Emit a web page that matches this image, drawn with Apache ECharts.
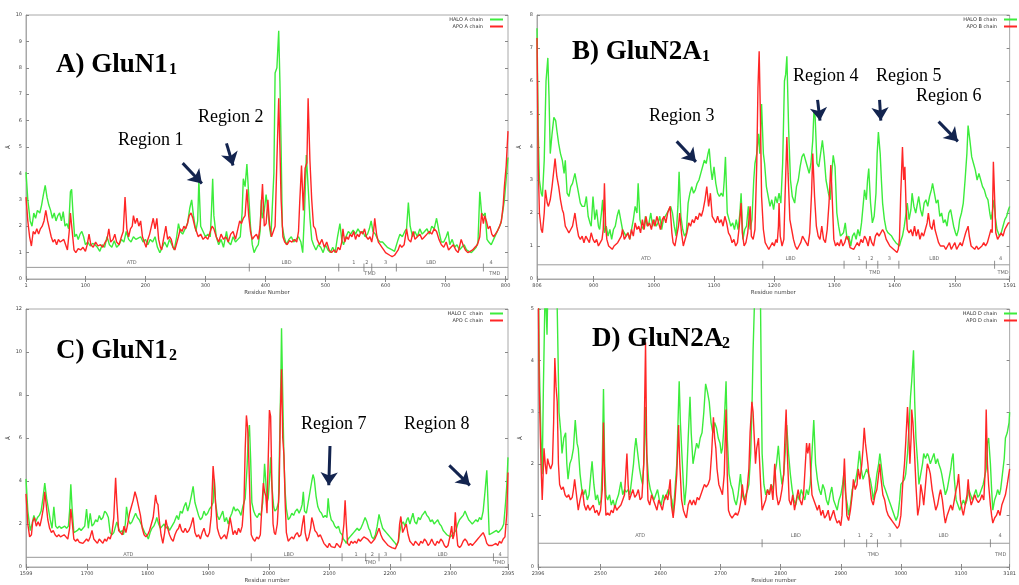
<!DOCTYPE html>
<html><head><meta charset="utf-8">
<script src="https://cdn.jsdelivr.net/npm/echarts@6/dist/echarts.min.js"></script>
<style>html,body{margin:0;padding:0;background:#fff}#c{width:1019px;height:585px}</style>
</head><body><div id="c"></div>
<script>
// ---------------- DATA (residue, RMSF in Å) ----------------
const haloA = [[1,4.05],[4,3.0],[8,2.2],[11,2.0],[14,2.5],[17,2.3],[20,2.6],[24,2.5],[27,2.8],[30,3.2],[33,3.55],[36,3.1],[39,2.8],[42,2.6],[45,2.3],[48,2.5],[51,2.2],[54,2.4],[57,2.5],[60,2.2],[63,2.55],[66,2.0],[69,2.1],[72,1.9],[75,3.3],[77,3.4],[79,2.6],[82,1.6],[85,1.7],[88,1.5],[91,1.7],[94,1.8],[97,1.6],[100,1.3],[104,1.4],[108,1.25],[112,1.35],[116,1.3],[120,1.2],[124,1.05],[128,1.3],[132,1.2],[136,1.6],[140,1.3],[144,1.2],[148,1.45],[152,1.2],[156,1.3],[160,1.5],[164,1.4],[168,1.8],[172,1.5],[176,1.4],[180,1.6],[184,1.5],[188,1.55],[192,1.6],[196,1.4],[200,1.5],[204,1.3],[208,1.5],[212,1.4],[216,1.6],[220,1.2],[224,1.0],[228,1.2],[232,1.4],[236,1.2],[240,1.5],[244,1.3],[248,1.1],[252,1.6],[255,2.1],[258,1.8],[262,1.7],[266,1.9],[270,2.1],[274,2.7],[277,3.0],[280,2.4],[284,1.8],[287,2.2],[289,3.75],[292,2.0],[296,1.8],[300,1.6],[304,1.7],[308,1.6],[310,2.6],[312,3.8],[314,2.4],[318,1.6],[322,1.3],[326,1.5],[330,1.2],[335,1.8],[338,1.4],[342,1.3],[346,1.6],[350,1.4],[354,1.5],[358,1.6],[361,2.5],[363,3.8],[366,3.5],[369,4.35],[372,3.2],[375,2.0],[378,1.3],[381,1.0],[385,1.2],[388,1.3],[391,1.8],[393,3.0],[395,2.3],[398,2.6],[401,3.2],[404,2.6],[406,2.1],[409,1.6],[412,1.6],[414,4.0],[416,7.8],[419,8.0],[422,9.4],[424,7.5],[426,5.0],[428,2.0],[431,1.6],[435,1.3],[439,1.5],[443,1.6],[447,1.4],[451,1.5],[455,1.6],[459,1.4],[462,1.0],[465,2.5],[468,4.7],[471,3.5],[474,2.3],[477,1.5],[480,1.3],[484,1.1],[488,1.3],[492,1.2],[496,1.0],[500,1.3],[504,1.1],[508,1.0],[512,1.2],[516,1.0],[520,1.6],[524,2.1],[527,1.5],[530,1.3],[534,1.6],[538,1.8],[542,1.7],[546,1.85],[550,1.7],[554,1.9],[558,1.75],[562,1.8],[566,1.6],[570,1.7],[573,1.9],[576,2.2],[579,1.8],[583,1.7],[587,1.5],[591,1.4],[595,1.4],[599,1.3],[603,1.2],[607,1.15],[611,1.1],[615,1.05],[618,1.0],[621,1.5],[624,1.7],[628,1.6],[632,1.8],[635,1.9],[638,2.9],[641,2.0],[645,1.6],[649,1.8],[653,1.6],[657,1.9],[661,1.7],[665,1.8],[669,1.9],[673,1.7],[677,2.0],[681,1.9],[685,2.3],[689,1.8],[693,1.4],[697,1.4],[701,1.6],[704,1.8],[707,1.3],[711,1.5],[715,1.2],[719,1.3],[723,1.1],[727,1.2],[731,1.3],[735,1.1],[739,1.05],[743,1.0],[747,1.1],[751,1.2],[754,1.4],[757,3.3],[760,2.5],[763,2.4],[766,2.5],[769,1.5],[772,1.4],[776,1.3],[780,1.5],[784,1.7],[788,1.9],[792,2.1],[795,2.5],[798,3.0],[801,3.8],[804,4.6]];
const apoA = [[1,3.1],[4,2.2],[7,1.6],[10,1.25],[13,1.8],[16,1.7],[19,1.9],[22,1.7],[25,1.9],[28,2.0],[31,2.2],[34,2.6],[37,2.2],[40,1.9],[43,1.6],[46,1.4],[49,1.5],[52,1.3],[55,1.5],[58,1.4],[61,1.35],[64,1.5],[67,1.3],[70,1.1],[73,1.8],[75,2.5],[78,1.8],[81,1.1],[84,1.0],[88,1.15],[92,1.1],[96,1.2],[100,1.05],[103,1.3],[106,1.7],[109,1.3],[113,1.2],[117,1.4],[121,1.25],[125,1.3],[129,1.2],[133,1.4],[136,1.5],[139,1.9],[142,1.4],[146,1.5],[149,1.7],[152,1.4],[156,1.3],[160,1.6],[163,1.8],[166,3.1],[169,1.9],[172,1.6],[175,1.9],[178,2.0],[180,2.4],[183,2.1],[186,2.3],[189,2.0],[192,2.2],[195,1.6],[198,1.4],[201,1.2],[204,1.5],[207,1.7],[210,2.0],[213,2.3],[216,1.9],[219,2.3],[222,1.5],[225,1.2],[227,1.1],[230,1.5],[234,2.0],[237,1.5],[240,1.6],[243,1.5],[246,1.2],[249,1.1],[252,1.1],[255,1.6],[258,1.9],[261,1.8],[264,2.0],[267,1.9],[270,2.1],[273,2.4],[276,2.5],[279,2.3],[282,2.0],[285,1.8],[288,1.6],[292,1.7],[296,1.5],[300,1.6],[304,1.5],[308,1.8],[311,2.0],[314,1.9],[318,1.6],[322,1.4],[326,1.7],[330,1.5],[334,1.6],[338,1.4],[342,1.7],[346,1.8],[350,1.5],[354,1.9],[357,2.2],[360,2.1],[363,2.3],[366,2.4],[369,3.4],[372,2.4],[375,1.8],[378,1.5],[381,1.6],[385,1.7],[388,1.5],[391,2.0],[395,3.6],[398,2.0],[401,2.1],[404,3.0],[407,2.0],[410,1.6],[413,1.8],[416,2.0],[419,4.5],[422,6.85],[424,5.0],[426,3.0],[429,1.6],[432,1.4],[436,1.3],[440,1.45],[444,1.4],[448,1.5],[452,1.4],[455,1.8],[457,2.9],[460,4.3],[463,2.6],[466,4.2],[469,4.4],[471,6.85],[474,4.5],[477,3.0],[480,2.0],[483,1.9],[486,1.5],[490,1.3],[494,1.5],[498,1.2],[502,1.4],[506,1.1],[510,1.0],[514,1.1],[518,1.0],[521,1.2],[524,1.1],[527,1.4],[529,1.9],[532,1.4],[535,1.6],[538,1.5],[541,1.7],[544,1.6],[547,1.8],[550,1.5],[553,1.7],[556,1.6],[559,1.8],[562,1.7],[565,1.9],[568,1.6],[571,1.5],[574,1.6],[577,1.4],[580,1.8],[582,2.3],[585,1.7],[588,1.4],[591,1.3],[594,1.2],[597,1.1],[600,1.0],[603,0.95],[607,0.9],[611,0.85],[615,0.9],[618,1.0],[621,1.1],[624,1.3],[627,1.2],[631,1.3],[635,1.9],[638,1.5],[642,1.4],[646,1.8],[649,1.5],[653,1.6],[657,1.7],[661,1.5],[665,1.6],[669,1.7],[673,1.8],[677,1.7],[681,1.9],[685,1.8],[689,1.5],[693,1.3],[697,1.2],[701,1.4],[705,1.1],[709,1.2],[713,1.3],[717,1.1],[721,1.0],[724,1.3],[726,1.5],[729,1.3],[733,1.1],[737,1.0],[741,1.05],[745,1.1],[749,1.2],[753,1.3],[757,1.6],[760,2.5],[763,2.1],[765,2.4],[768,2.2],[771,1.9],[774,2.0],[777,1.7],[780,1.6],[783,1.7],[786,1.8],[790,2.0],[793,2.2],[796,2.8],[798,3.5],[801,4.3],[804,5.6]];
const haloB = [[806,7.6],[808,4.5],[810,3.0],[813,2.6],[815,2.5],[818,3.6],[821,6.0],[824,6.7],[826,5.5],[828,3.8],[831,4.4],[834,4.9],[837,4.8],[839,4.5],[842,4.1],[845,3.8],[848,3.6],[851,3.2],[853,3.6],[856,2.6],[859,2.5],[862,2.8],[865,2.9],[869,3.2],[872,2.9],[875,2.6],[878,2.3],[881,2.2],[885,2.2],[888,2.5],[891,1.9],[894,1.7],[896,1.6],[899,2.5],[902,1.8],[905,2.1],[908,1.6],[910,1.5],[913,2.0],[915,2.4],[918,1.4],[921,1.6],[924,1.3],[927,1.5],[930,1.2],[933,1.5],[936,1.6],[939,1.9],[942,2.1],[945,1.8],[948,1.5],[951,1.4],[954,1.3],[957,1.4],[960,1.2],[963,1.5],[966,1.8],[969,2.2],[972,2.0],[974,2.9],[977,1.8],[980,1.6],[983,1.5],[986,1.9],[989,1.6],[992,1.7],[995,2.0],[998,1.6],[1001,1.8],[1004,1.6],[1007,1.7],[1010,1.9],[1013,1.5],[1016,1.8],[1019,1.9],[1022,2.0],[1025,2.1],[1028,2.2],[1031,2.0],[1034,1.6],[1037,1.3],[1040,2.2],[1042,3.25],[1045,1.9],[1048,1.5],[1051,1.3],[1054,1.4],[1057,2.3],[1060,2.6],[1063,2.8],[1066,2.6],[1069,2.7],[1072,2.9],[1075,3.0],[1078,3.2],[1081,3.4],[1084,3.6],[1087,3.5],[1090,3.8],[1092,3.95],[1095,3.3],[1097,3.0],[1100,3.4],[1103,2.9],[1106,2.6],[1109,2.5],[1112,2.6],[1115,2.5],[1117,3.0],[1119,3.7],[1122,2.0],[1125,1.8],[1128,1.6],[1131,1.7],[1134,1.5],[1137,1.8],[1140,1.5],[1143,2.0],[1145,2.6],[1148,1.2],[1151,1.5],[1154,1.6],[1157,2.2],[1160,1.5],[1163,1.8],[1166,3.0],[1168,3.5],[1171,3.8],[1174,4.4],[1176,3.8],[1179,5.3],[1182,3.8],[1184,3.5],[1187,2.8],[1190,2.5],[1193,2.2],[1196,2.4],[1199,2.1],[1202,2.5],[1205,2.3],[1208,2.6],[1211,2.3],[1214,3.5],[1217,6.0],[1219,6.2],[1221,6.75],[1224,4.5],[1227,3.0],[1230,2.5],[1234,2.3],[1237,2.8],[1240,3.0],[1243,3.4],[1246,3.7],[1249,3.8],[1252,3.6],[1255,3.4],[1258,3.2],[1261,3.5],[1264,4.2],[1266,5.1],[1268,4.9],[1271,3.5],[1274,3.4],[1277,3.8],[1280,4.2],[1283,3.7],[1286,3.0],[1290,2.6],[1293,2.4],[1296,3.3],[1298,3.75],[1301,3.4],[1304,2.0],[1307,1.6],[1310,1.3],[1313,1.3],[1315,1.4],[1318,1.7],[1321,1.2],[1324,1.3],[1327,1.0],[1330,1.3],[1333,1.4],[1336,1.2],[1339,1.5],[1342,1.3],[1345,1.7],[1348,2.3],[1350,2.7],[1353,2.4],[1355,3.0],[1357,3.35],[1360,2.3],[1363,1.7],[1366,1.9],[1369,2.6],[1371,3.8],[1373,4.45],[1376,3.8],[1378,3.0],[1380,2.3],[1383,1.8],[1386,1.5],[1389,1.4],[1392,1.4],[1395,1.3],[1398,1.2],[1402,1.1],[1405,1.05],[1408,1.0],[1411,1.2],[1413,1.3],[1416,1.6],[1419,2.0],[1421,2.3],[1424,1.8],[1427,2.1],[1429,2.6],[1432,2.2],[1435,2.0],[1438,2.3],[1440,2.5],[1443,2.1],[1446,1.9],[1449,2.3],[1452,2.4],[1455,2.2],[1458,2.5],[1461,2.7],[1463,2.9],[1466,2.6],[1469,2.3],[1472,2.4],[1475,1.9],[1478,2.0],[1481,1.7],[1484,1.8],[1487,1.6],[1490,2.0],[1493,2.1],[1495,2.1],[1498,1.6],[1501,1.4],[1503,1.3],[1506,1.5],[1508,1.8],[1511,2.0],[1514,2.3],[1517,3.0],[1520,3.8],[1522,4.65],[1525,4.2],[1528,3.7],[1531,3.5],[1534,3.3],[1537,3.0],[1540,3.2],[1543,3.0],[1546,2.8],[1549,2.7],[1552,2.5],[1555,2.4],[1558,2.0],[1560,1.8],[1562,2.0],[1565,2.4],[1567,1.9],[1570,1.5],[1574,1.3],[1577,1.4],[1580,1.6],[1583,1.8],[1586,1.9],[1589,2.1],[1591,2.2]];
const apoB = [[806,7.3],[808,3.5],[810,2.0],[813,1.5],[815,1.4],[818,2.0],[820,2.7],[823,2.3],[825,2.2],[828,2.4],[831,2.8],[834,3.3],[836,3.65],[839,3.1],[842,2.8],[845,2.4],[848,2.1],[850,2.0],[853,1.6],[856,1.5],[859,1.4],[862,1.5],[865,1.6],[867,1.8],[869,2.0],[872,1.6],[875,1.3],[878,1.2],[881,1.3],[884,1.1],[887,1.3],[890,1.2],[893,1.1],[896,1.4],[899,1.2],[902,1.1],[905,1.2],[908,1.0],[911,1.1],[914,1.2],[916,1.5],[918,2.9],[920,1.6],[922,1.2],[925,1.0],[928,0.95],[931,0.9],[934,1.0],[937,0.95],[940,1.1],[943,1.2],[946,1.3],[948,1.5],[951,1.2],[954,1.3],[957,1.4],[960,1.2],[963,1.5],[966,1.3],[969,1.7],[972,1.5],[975,1.6],[978,1.4],[981,1.8],[984,1.5],[987,1.9],[990,1.6],[993,1.7],[996,1.5],[999,1.8],[1002,1.6],[1005,1.9],[1008,1.7],[1011,1.5],[1014,1.8],[1017,1.9],[1020,1.7],[1023,2.0],[1025,2.1],[1027,2.2],[1030,1.4],[1032,1.1],[1035,1.0],[1038,1.3],[1041,1.6],[1043,2.0],[1046,1.4],[1049,1.0],[1052,1.05],[1055,1.4],[1058,1.7],[1061,1.6],[1064,1.8],[1067,1.7],[1070,1.9],[1073,1.8],[1076,2.0],[1079,1.9],[1082,2.1],[1085,2.4],[1088,2.8],[1091,2.2],[1094,2.6],[1097,1.9],[1100,1.8],[1103,1.7],[1106,1.9],[1109,1.7],[1112,1.8],[1115,1.6],[1118,1.9],[1121,1.7],[1124,1.4],[1127,1.3],[1130,1.1],[1133,1.2],[1136,1.0],[1139,1.1],[1142,1.6],[1145,2.3],[1147,1.4],[1150,1.0],[1153,1.1],[1156,1.4],[1158,1.8],[1160,2.2],[1162,1.3],[1165,1.2],[1168,1.5],[1171,3.5],[1173,5.8],[1175,6.9],[1177,5.0],[1179,2.5],[1182,1.5],[1185,1.1],[1188,1.0],[1191,0.9],[1194,1.0],[1197,1.1],[1200,1.0],[1203,1.2],[1205,1.1],[1207,1.6],[1208,2.3],[1210,1.3],[1213,1.0],[1216,1.2],[1218,2.5],[1221,4.3],[1223,3.2],[1226,1.8],[1229,1.5],[1232,1.2],[1235,1.0],[1238,0.9],[1241,1.0],[1244,1.1],[1247,1.3],[1250,1.2],[1253,1.1],[1256,1.0],[1259,1.4],[1262,2.6],[1264,3.8],[1267,2.5],[1270,1.6],[1273,1.3],[1276,1.2],[1279,1.6],[1282,1.2],[1285,1.1],[1288,1.5],[1291,2.3],[1294,3.45],[1296,2.6],[1299,1.2],[1302,1.0],[1305,1.1],[1308,1.0],[1311,1.2],[1314,1.0],[1317,1.1],[1320,1.3],[1323,1.2],[1326,0.95],[1329,1.0],[1332,0.9],[1335,1.0],[1338,1.1],[1341,1.0],[1344,1.2],[1347,1.1],[1350,1.3],[1353,1.2],[1356,1.0],[1359,1.3],[1362,1.1],[1365,1.0],[1368,1.3],[1371,1.4],[1374,1.3],[1377,1.4],[1380,1.5],[1383,1.4],[1386,1.2],[1389,1.1],[1392,1.0],[1395,0.95],[1398,0.9],[1401,0.85],[1404,0.8],[1406,0.9],[1408,1.2],[1410,2.5],[1413,4.0],[1415,3.0],[1417,3.4],[1419,2.2],[1421,1.5],[1424,1.4],[1427,1.5],[1430,1.3],[1433,1.6],[1436,1.3],[1439,1.5],[1442,1.2],[1445,1.4],[1448,1.3],[1451,1.5],[1454,1.7],[1456,2.0],[1459,1.6],[1462,1.5],[1465,1.8],[1467,1.5],[1470,1.3],[1473,1.1],[1476,1.0],[1479,0.95],[1482,1.0],[1485,0.9],[1488,1.0],[1491,1.1],[1494,0.9],[1497,1.0],[1500,1.1],[1503,0.9],[1506,1.0],[1509,1.1],[1512,1.0],[1515,1.2],[1518,1.4],[1520,1.5],[1522,1.6],[1524,1.3],[1527,1.0],[1530,0.95],[1533,0.9],[1536,1.0],[1539,0.9],[1542,0.95],[1545,1.0],[1548,1.1],[1551,1.0],[1554,1.1],[1557,1.3],[1560,1.5],[1562,1.4],[1564,3.55],[1566,2.5],[1568,1.4],[1571,1.2],[1574,1.3],[1577,1.4],[1580,1.3],[1583,1.5],[1586,1.6],[1589,1.7],[1591,1.7]];
const haloC = [[1599,4.1],[1602,2.6],[1606,1.7],[1609,2.0],[1612,2.4],[1615,2.1],[1618,2.3],[1621,2.4],[1624,2.6],[1627,3.2],[1630,3.9],[1633,3.2],[1636,2.7],[1639,2.2],[1642,1.8],[1645,2.8],[1648,1.9],[1651,1.8],[1654,1.9],[1657,1.8],[1660,1.85],[1663,1.9],[1666,1.8],[1669,1.9],[1671,2.6],[1673,3.85],[1675,2.8],[1678,1.6],[1681,1.6],[1684,1.7],[1687,1.8],[1690,1.7],[1693,1.8],[1696,1.9],[1699,2.7],[1702,1.8],[1705,2.5],[1708,1.9],[1711,2.0],[1714,2.2],[1717,2.1],[1720,2.4],[1723,2.2],[1726,2.3],[1729,2.6],[1732,2.5],[1735,2.3],[1738,1.6],[1741,1.5],[1744,1.6],[1747,1.9],[1749,2.1],[1752,1.8],[1755,1.6],[1758,1.7],[1760,1.5],[1763,2.0],[1765,2.8],[1768,2.2],[1771,2.0],[1774,2.1],[1777,2.3],[1780,2.5],[1783,2.3],[1786,2.2],[1789,2.0],[1792,1.8],[1795,1.6],[1798,1.5],[1801,1.3],[1804,1.6],[1807,1.8],[1810,1.9],[1813,2.1],[1815,2.3],[1818,2.0],[1821,1.8],[1824,1.9],[1827,2.0],[1830,1.8],[1833,1.9],[1836,1.7],[1840,1.9],[1844,2.1],[1848,2.4],[1851,2.2],[1854,2.6],[1857,2.5],[1860,2.8],[1863,3.0],[1866,2.6],[1869,2.9],[1872,3.3],[1875,3.75],[1878,3.0],[1881,2.7],[1884,2.4],[1887,2.2],[1890,2.3],[1893,2.6],[1896,2.4],[1899,2.5],[1902,2.7],[1905,2.8],[1908,3.0],[1910,4.1],[1912,3.0],[1915,2.4],[1918,2.2],[1921,2.4],[1924,2.6],[1927,2.1],[1930,2.3],[1933,2.0],[1936,2.3],[1939,2.5],[1942,2.8],[1945,2.6],[1948,2.7],[1951,2.6],[1954,2.4],[1957,2.8],[1961,3.2],[1964,4.6],[1966,6.0],[1968,6.6],[1970,5.0],[1972,3.0],[1975,2.6],[1978,2.4],[1981,2.3],[1984,2.5],[1987,2.4],[1990,3.0],[1993,4.8],[1995,4.0],[1997,3.0],[1999,3.2],[2001,4.0],[2003,5.1],[2005,3.8],[2008,2.8],[2010,2.6],[2013,2.7],[2016,3.0],[2018,6.0],[2020,9.0],[2021,11.1],[2023,8.0],[2025,5.0],[2027,3.5],[2029,2.7],[2032,2.2],[2035,2.3],[2038,2.5],[2041,2.4],[2044,2.6],[2047,2.7],[2050,2.5],[2053,2.7],[2055,2.9],[2057,3.5],[2059,2.6],[2062,2.5],[2065,3.0],[2068,3.5],[2071,4.0],[2073,4.3],[2075,4.1],[2078,3.3],[2081,2.8],[2084,2.6],[2087,2.5],[2090,2.3],[2093,2.4],[2096,2.3],[2098,3.2],[2100,2.6],[2103,2.2],[2106,2.1],[2109,1.9],[2112,1.8],[2115,1.9],[2118,1.6],[2121,1.5],[2123,1.3],[2126,1.2],[2128,1.1],[2131,1.3],[2134,1.4],[2137,1.5],[2140,1.6],[2143,1.7],[2146,1.8],[2149,1.7],[2152,1.8],[2155,2.0],[2159,2.3],[2162,2.1],[2165,1.8],[2167,1.7],[2170,1.4],[2173,1.3],[2176,1.5],[2179,1.9],[2182,2.45],[2185,2.1],[2188,1.8],[2191,1.7],[2194,1.6],[2197,1.5],[2200,1.4],[2203,1.3],[2206,1.2],[2209,1.1],[2211,1.0],[2214,1.2],[2216,1.6],[2219,2.0],[2222,2.1],[2225,1.9],[2228,2.2],[2230,2.3],[2233,2.0],[2236,2.3],[2238,2.5],[2241,2.1],[2244,2.0],[2247,2.3],[2250,2.2],[2253,2.4],[2256,2.5],[2258,2.6],[2261,2.4],[2264,2.3],[2267,2.1],[2270,2.2],[2273,2.0],[2276,2.1],[2279,2.2],[2282,2.0],[2285,1.9],[2288,1.7],[2291,1.6],[2294,1.5],[2297,1.45],[2300,1.4],[2303,1.5],[2306,1.6],[2309,1.7],[2312,2.0],[2315,2.2],[2318,2.3],[2321,2.4],[2324,2.6],[2327,2.4],[2330,2.2],[2333,2.1],[2336,2.0],[2339,2.1],[2342,2.2],[2345,2.1],[2348,2.3],[2351,2.2],[2354,2.6],[2357,3.5],[2360,4.5],[2362,3.0],[2364,1.5],[2367,1.5],[2370,1.6],[2373,1.6],[2376,1.7],[2379,1.6],[2382,1.7],[2385,1.8],[2388,2.0],[2391,3.0],[2393,3.8],[2395,5.1]];
const apoC = [[1599,3.4],[1602,2.0],[1605,1.4],[1608,1.5],[1610,2.1],[1613,2.3],[1616,1.9],[1619,2.1],[1622,1.9],[1625,2.3],[1628,2.8],[1630,3.5],[1632,3.0],[1635,2.2],[1638,1.8],[1641,1.6],[1644,1.7],[1647,1.5],[1650,1.4],[1653,1.5],[1656,1.4],[1659,1.45],[1662,1.5],[1665,1.4],[1668,1.3],[1671,1.8],[1673,2.7],[1675,2.2],[1678,1.3],[1681,1.2],[1684,1.3],[1687,1.15],[1690,1.2],[1693,1.1],[1696,1.2],[1699,1.3],[1702,1.2],[1705,1.4],[1708,1.7],[1711,1.3],[1714,1.2],[1717,1.1],[1720,1.3],[1723,1.2],[1726,1.1],[1729,1.3],[1732,1.2],[1735,1.4],[1738,1.3],[1741,1.6],[1744,2.3],[1747,4.15],[1749,3.0],[1752,1.7],[1755,1.6],[1758,1.5],[1761,1.9],[1764,1.6],[1767,2.0],[1770,2.5],[1773,2.8],[1776,3.1],[1779,3.5],[1782,3.2],[1785,2.8],[1788,2.4],[1791,1.8],[1794,1.5],[1797,1.4],[1800,1.5],[1803,1.7],[1806,2.0],[1809,2.3],[1811,2.8],[1813,3.35],[1815,3.0],[1817,2.9],[1819,2.2],[1822,1.5],[1825,1.1],[1828,1.6],[1830,2.2],[1833,1.8],[1836,1.5],[1839,1.3],[1842,1.2],[1845,1.5],[1848,1.7],[1851,1.8],[1853,2.0],[1856,1.7],[1859,1.6],[1862,1.8],[1865,1.6],[1868,1.7],[1871,1.9],[1873,2.1],[1875,2.3],[1878,1.6],[1881,1.4],[1884,1.5],[1887,1.3],[1890,1.6],[1893,1.8],[1896,1.5],[1899,1.4],[1902,1.6],[1905,2.4],[1908,4.7],[1910,4.0],[1912,3.0],[1915,1.8],[1918,1.5],[1921,1.3],[1924,1.4],[1927,1.5],[1930,1.3],[1933,1.7],[1936,2.3],[1938,2.0],[1941,1.5],[1944,1.7],[1947,1.5],[1950,1.8],[1953,1.6],[1956,1.9],[1959,3.0],[1961,5.5],[1963,7.05],[1965,6.5],[1967,5.0],[1969,3.0],[1971,1.5],[1974,1.3],[1977,1.2],[1980,1.4],[1983,1.3],[1986,1.5],[1989,3.0],[1991,3.9],[1993,3.5],[1995,3.3],[1997,2.5],[1999,5.0],[2001,7.3],[2003,7.0],[2005,4.0],[2007,2.0],[2009,1.6],[2011,1.5],[2014,2.0],[2017,3.5],[2019,7.0],[2021,9.2],[2023,6.0],[2025,5.2],[2027,3.0],[2029,1.6],[2032,1.2],[2035,1.3],[2038,1.4],[2041,1.3],[2044,1.5],[2047,1.6],[2050,1.4],[2053,1.5],[2055,1.9],[2058,2.4],[2060,1.6],[2063,1.2],[2066,1.4],[2069,1.8],[2071,2.3],[2073,2.1],[2076,1.7],[2079,1.6],[2082,1.4],[2085,1.5],[2088,1.3],[2091,1.1],[2094,1.0],[2097,0.9],[2100,1.1],[2103,0.95],[2106,1.0],[2109,0.9],[2112,1.1],[2115,1.0],[2118,0.9],[2121,1.2],[2124,2.0],[2126,3.1],[2128,2.0],[2130,1.1],[2133,1.0],[2136,1.2],[2139,1.1],[2142,1.2],[2145,1.1],[2148,1.3],[2151,1.2],[2154,1.3],[2157,1.4],[2160,1.4],[2163,1.3],[2166,1.2],[2169,1.1],[2172,1.1],[2175,1.3],[2178,1.5],[2182,1.8],[2185,1.5],[2188,1.3],[2191,1.2],[2194,1.1],[2197,1.0],[2200,1.0],[2203,0.9],[2206,0.85],[2209,0.85],[2211,0.8],[2214,1.2],[2216,2.0],[2218,2.35],[2221,1.6],[2224,1.8],[2227,2.0],[2230,1.5],[2233,1.2],[2236,1.1],[2239,1.0],[2242,1.2],[2245,1.1],[2248,1.0],[2251,1.2],[2254,1.1],[2257,1.3],[2260,1.2],[2263,1.0],[2266,1.1],[2269,1.3],[2272,1.1],[2275,1.0],[2278,1.2],[2281,1.1],[2284,1.3],[2287,1.2],[2290,1.0],[2293,0.9],[2296,1.0],[2299,1.4],[2302,1.9],[2304,1.3],[2306,1.5],[2308,2.55],[2310,1.6],[2312,1.0],[2315,0.9],[2318,1.0],[2321,1.2],[2324,1.3],[2327,1.2],[2330,1.0],[2333,1.1],[2336,1.0],[2339,1.1],[2342,1.2],[2345,1.3],[2348,1.4],[2351,1.5],[2354,1.6],[2357,1.4],[2360,1.1],[2363,1.0],[2366,0.95],[2369,1.0],[2372,0.95],[2375,1.1],[2378,1.0],[2381,1.2],[2384,1.1],[2387,1.3],[2390,1.4],[2393,2.5],[2395,4.4]];
const haloD = [[2396,6.5],[2398,4.0],[2401,2.5],[2403,1.8],[2405,3.5],[2408,5.5],[2411,4.5],[2413,5.8],[2416,6.5],[2420,6.5],[2424,6.0],[2428,5.0],[2431,3.0],[2434,2.6],[2436,2.2],[2439,2.5],[2442,2.6],[2444,2.0],[2446,1.7],[2449,2.0],[2452,2.1],[2455,2.3],[2458,2.85],[2461,2.4],[2463,2.3],[2466,1.8],[2469,1.5],[2472,1.4],[2475,1.5],[2478,1.3],[2481,1.4],[2484,1.8],[2486,2.05],[2489,1.6],[2492,1.3],[2495,1.4],[2498,1.2],[2501,1.3],[2503,2.0],[2505,3.45],[2507,2.0],[2509,1.4],[2512,1.3],[2515,1.4],[2518,1.2],[2521,1.3],[2524,1.15],[2527,1.3],[2530,1.4],[2534,1.65],[2537,1.4],[2540,1.5],[2543,1.45],[2546,1.5],[2549,1.4],[2552,1.7],[2555,2.0],[2557,2.3],[2559,2.5],[2562,2.2],[2565,1.9],[2568,1.7],[2570,1.6],[2573,2.2],[2575,3.1],[2577,2.2],[2580,1.7],[2583,1.5],[2586,1.4],[2589,1.3],[2592,1.4],[2595,1.5],[2598,1.3],[2601,1.2],[2604,1.4],[2607,1.3],[2610,1.4],[2613,1.5],[2616,1.4],[2619,1.3],[2621,1.0],[2624,1.5],[2627,2.0],[2629,2.8],[2631,3.6],[2633,2.8],[2635,2.3],[2638,1.6],[2640,1.2],[2643,1.6],[2646,2.5],[2649,3.3],[2651,2.6],[2654,2.0],[2657,2.2],[2660,2.4],[2663,2.3],[2666,2.5],[2669,2.6],[2672,3.0],[2675,3.55],[2678,3.4],[2681,3.2],[2684,2.8],[2687,2.6],[2690,2.8],[2693,2.7],[2696,2.5],[2699,2.4],[2701,2.2],[2703,2.3],[2706,2.8],[2709,3.6],[2711,2.5],[2714,1.8],[2717,1.6],[2720,1.5],[2723,1.3],[2726,1.2],[2729,1.4],[2731,1.6],[2733,1.8],[2736,1.4],[2739,1.3],[2742,1.4],[2745,1.5],[2747,1.6],[2750,2.2],[2752,3.0],[2754,4.2],[2756,5.0],[2759,6.0],[2763,6.5],[2766,5.5],[2768,3.2],[2769,2.2],[2772,1.6],[2775,1.4],[2778,1.5],[2781,1.4],[2784,1.6],[2787,1.5],[2790,1.8],[2793,2.0],[2796,2.35],[2799,1.9],[2802,1.6],[2805,1.8],[2808,2.3],[2810,2.75],[2813,2.2],[2816,1.8],[2819,1.5],[2822,1.3],[2825,1.2],[2828,1.4],[2831,1.3],[2834,1.5],[2837,1.4],[2840,1.3],[2843,1.5],[2846,1.4],[2849,1.6],[2852,2.2],[2855,2.85],[2858,2.0],[2861,1.7],[2864,1.5],[2867,1.4],[2870,1.6],[2873,1.5],[2876,1.3],[2879,1.2],[2882,1.4],[2885,1.55],[2888,1.3],[2891,1.2],[2894,1.1],[2897,1.3],[2900,1.4],[2903,1.6],[2905,1.8],[2908,1.4],[2911,1.2],[2913,1.0],[2916,1.2],[2919,1.5],[2922,1.6],[2925,1.7],[2928,1.9],[2931,2.25],[2934,1.9],[2937,1.7],[2940,1.8],[2943,1.9],[2946,1.8],[2949,1.7],[2952,1.5],[2954,1.3],[2957,1.5],[2960,1.8],[2963,2.0],[2965,2.2],[2968,1.9],[2971,1.6],[2974,1.5],[2977,1.4],[2980,1.3],[2983,1.2],[2986,1.1],[2989,1.0],[2992,0.9],[2995,1.0],[2998,1.3],[3000,1.6],[3003,1.65],[3006,1.7],[3008,1.8],[3011,2.2],[3014,2.8],[3016,3.3],[3018,3.6],[3021,4.2],[3023,3.2],[3025,2.5],[3028,2.0],[3030,1.6],[3033,1.8],[3036,2.0],[3038,2.2],[3041,2.1],[3044,2.2],[3046,2.15],[3049,2.0],[3052,2.1],[3055,2.2],[3058,2.0],[3061,2.1],[3063,2.0],[3066,1.9],[3068,1.8],[3071,1.6],[3074,1.4],[3077,1.5],[3080,1.7],[3083,1.9],[3085,2.1],[3087,2.2],[3089,1.7],[3092,1.3],[3095,1.2],[3098,1.1],[3101,1.2],[3104,1.3],[3107,1.2],[3110,1.3],[3113,1.5],[3116,1.4],[3119,1.3],[3122,1.4],[3125,1.5],[3128,1.35],[3131,1.4],[3134,1.5],[3137,1.6],[3139,1.6],[3142,1.9],[3144,2.4],[3146,2.5],[3149,2.0],[3151,1.5],[3153,1.1],[3156,1.3],[3159,1.4],[3161,1.5],[3164,1.4],[3166,1.5],[3169,1.8],[3172,2.1],[3174,2.5],[3177,2.6],[3180,2.8],[3181,3.0]];
const apoD = [[2396,6.0],[2398,3.5],[2401,2.0],[2403,1.3],[2404,1.6],[2406,2.3],[2408,2.0],[2410,1.8],[2412,2.1],[2414,2.0],[2417,1.9],[2420,2.0],[2422,2.8],[2424,4.05],[2426,3.5],[2428,3.2],[2430,2.0],[2432,1.6],[2435,1.5],[2438,1.55],[2441,1.4],[2444,1.35],[2447,1.4],[2450,1.3],[2453,1.35],[2455,1.5],[2457,1.7],[2460,1.4],[2463,1.1],[2466,1.3],[2468,1.4],[2470,1.5],[2473,1.2],[2476,1.1],[2479,1.2],[2482,1.1],[2485,1.15],[2488,1.2],[2491,1.05],[2494,1.1],[2497,1.0],[2500,1.1],[2503,1.5],[2505,2.8],[2507,1.6],[2509,1.0],[2512,1.05],[2515,1.0],[2518,1.1],[2521,1.05],[2524,1.2],[2527,1.1],[2530,1.15],[2534,1.2],[2537,1.3],[2540,1.4],[2542,1.8],[2544,2.2],[2546,1.6],[2548,1.3],[2551,1.4],[2554,1.5],[2557,1.35],[2560,1.4],[2563,1.5],[2566,1.3],[2569,1.35],[2572,2.0],[2575,4.35],[2577,2.2],[2579,1.3],[2582,1.2],[2585,1.4],[2588,1.3],[2591,1.2],[2594,1.1],[2597,1.3],[2600,1.2],[2603,1.1],[2606,1.3],[2609,1.4],[2612,1.3],[2614,1.5],[2616,1.7],[2618,1.2],[2621,0.95],[2624,1.3],[2627,1.8],[2630,2.75],[2632,2.0],[2635,1.3],[2638,1.1],[2641,1.0],[2643,0.95],[2646,1.2],[2649,1.3],[2652,1.2],[2655,1.3],[2658,1.2],[2661,1.35],[2664,1.3],[2667,1.4],[2670,1.5],[2673,1.6],[2676,1.55],[2679,1.6],[2682,1.7],[2685,2.2],[2688,2.9],[2690,2.5],[2692,2.3],[2694,1.9],[2697,1.6],[2700,1.5],[2703,1.4],[2706,1.8],[2709,3.05],[2711,1.8],[2713,1.1],[2716,1.0],[2719,0.95],[2722,1.0],[2725,1.05],[2728,1.0],[2731,1.1],[2734,1.3],[2736,1.6],[2738,1.4],[2741,1.2],[2744,1.5],[2747,1.9],[2749,2.6],[2752,3.2],[2754,3.0],[2756,2.5],[2758,2.0],[2760,2.3],[2763,2.5],[2765,2.0],[2767,1.5],[2769,1.1],[2772,1.2],[2775,1.3],[2778,1.5],[2781,1.4],[2784,1.6],[2787,1.3],[2790,2.0],[2793,1.4],[2796,1.2],[2799,1.3],[2802,1.5],[2805,1.8],[2807,2.5],[2809,3.05],[2811,2.2],[2814,1.3],[2817,1.2],[2820,1.4],[2823,1.1],[2826,1.3],[2829,1.5],[2832,1.3],[2835,1.2],[2838,1.4],[2841,2.0],[2843,2.4],[2845,2.2],[2848,2.4],[2850,1.8],[2852,1.4],[2855,1.3],[2858,1.2],[2861,1.1],[2864,1.2],[2867,1.0],[2870,1.1],[2873,0.95],[2876,1.0],[2879,1.1],[2882,0.9],[2885,1.0],[2888,1.1],[2891,0.95],[2894,0.85],[2897,0.9],[2900,0.8],[2902,1.0],[2904,1.6],[2906,2.1],[2908,1.5],[2910,1.0],[2913,0.9],[2916,1.1],[2919,1.4],[2921,1.7],[2924,1.5],[2927,1.6],[2929,1.9],[2932,1.7],[2935,2.0],[2937,2.3],[2939,2.7],[2941,2.4],[2943,2.2],[2945,2.0],[2948,1.6],[2951,1.3],[2954,1.2],[2957,1.4],[2960,1.5],[2963,1.8],[2965,2.0],[2967,1.7],[2970,1.4],[2973,1.3],[2976,1.1],[2979,1.0],[2982,0.95],[2985,0.9],[2988,0.85],[2991,0.8],[2994,0.75],[2997,0.8],[3000,1.0],[3003,1.6],[3006,2.0],[3008,2.4],[3011,3.1],[3013,2.6],[3015,2.0],[3017,2.5],[3018,3.05],[3020,2.8],[3022,2.4],[3025,1.6],[3028,1.0],[3031,1.2],[3033,1.6],[3036,1.4],[3038,1.2],[3041,1.6],[3044,2.0],[3047,1.9],[3049,1.8],[3052,1.5],[3055,1.3],[3058,1.1],[3061,1.2],[3064,1.4],[3066,1.5],[3069,1.3],[3072,1.0],[3074,0.85],[3077,1.0],[3080,1.1],[3083,1.2],[3086,1.1],[3089,1.3],[3092,1.5],[3094,1.6],[3096,1.8],[3099,1.3],[3102,1.1],[3104,1.0],[3107,1.2],[3110,1.4],[3112,1.7],[3114,1.4],[3117,1.2],[3120,1.3],[3123,1.4],[3126,1.3],[3129,1.25],[3132,1.3],[3135,1.4],[3138,1.3],[3140,1.8],[3142,3.05],[3144,2.0],[3146,1.6],[3149,1.2],[3151,1.0],[3153,0.85],[3156,0.95],[3159,1.0],[3162,1.1],[3165,1.0],[3168,1.2],[3171,1.3],[3174,1.4],[3177,1.6],[3181,1.9]];

// tick labels
const xTicksA = [1,100,200,300,400,500,600,700,800];
const xTicksB = [806,900,1000,1100,1200,1300,1400,1500,1591];
const xTicksC = [1599,1700,1800,1900,2000,2100,2200,2300,2395];
const xTicksD = [2396,2500,2600,2700,2800,2900,3000,3100,3181];

// domain annotations: boundary residues, labels [text, residue], TMD label residues
const domTicksA = [373,522,564,577,618,763];
const domLabelsA = [['ATD',177],['LBD',435],['1',547],['2',569],['3',600],['LBD',676],['4',776]];
const tmdA = [574,782];
const domTicksB = [1181,1316,1353,1372,1407,1566];
const domLabelsB = [['ATD',987],['LBD',1227],['1',1341],['2',1362],['3',1391],['LBD',1466],['4',1576]];
const tmdB = [1367,1580];
const domTicksC = [1971,2121,2160,2182,2218,2371];
const domLabelsC = [['ATD',1768],['LBD',2033],['1',2144],['2',2171],['3',2193],['LBD',2287],['4',2382]];
const tmdC = [2168,2381];
const domTicksD = [2769,2906,2943,2961,3000,3149];
const domLabelsD = [['ATD',2566],['LBD',2825],['1',2931],['2',2951],['3',2981],['LBD',3071],['4',3165]];
const tmdD = [2954,3166];

// annotation arrows [from(residue, Å), to(residue, Å)]
const arrowsA = [[[262,4.39],[294,3.62]],[[335,5.14],[346,4.3]]];
const arrowsB = [[[1038,4.17],[1070,3.55]],[[1272,5.43],[1276,4.8]],[[1375,5.43],[1377,4.8]],[[1473,4.77],[1505,4.17]]];
const arrowsC = [[[2101,5.63],[2099,3.8]],[[2298,4.73],[2332,3.8]]];
const arrowsD = [];

// ---------------- CHART ----------------
const GREEN = '#3cec3c', RED = '#ff2626', NAVY = '#13244f';
const panels = [
  {id:'A', halo:haloA, apo:apoA, xMin:1, xMax:804, yMax:10, yStep:1, xTicks:xTicksA, xName:'Residue Number',
   domTicks:domTicksA, domLabels:domLabelsA, tmd:tmdA, arrows:arrowsA, grid:{left:26, top:15, width:482, height:264}, legend:{right:516, top:17}},
  {id:'B', halo:haloB, apo:apoB, xMin:806, xMax:1591, yMax:8, yStep:1, xTicks:xTicksB, xName:'Residue number',
   domTicks:domTicksB, domLabels:domLabelsB, tmd:tmdB, arrows:arrowsB, grid:{left:537, top:15, width:481, height:264}, legend:{right:2, top:17}},
  {id:'C', halo:haloC, apo:apoC, xMin:1599, xMax:2395, yMax:12, yStep:2, xTicks:xTicksC, xName:'Residue number',
   domTicks:domTicksC, domLabels:domLabelsC, tmd:tmdC, arrows:arrowsC, grid:{left:26, top:309, width:482, height:264}, legend:{right:516, top:311}},
  {id:'D', halo:haloD, apo:apoD, xMin:2396, xMax:3181, yMax:5, yStep:1, xTicks:xTicksD, xName:'Residue number',
   domTicks:domTicksD, domLabels:domLabelsD, tmd:tmdD, arrows:arrowsD, grid:{left:538, top:309, width:480, height:265}, legend:{right:2, top:311}}
];
const domY = {A:0.44, B:0.43, C:0.45, D:0.46};
const labY = {A:0.6, B:0.6, C:0.58, D:0.6};
const tmdY = {A:0.2, B:0.18, C:0.2, D:0.24};

const grids = [], xAxes = [], yAxes = [], series = [], legends = [];
const tickFont = {fontSize:5, color:'#444', fontFamily:'DejaVu Sans'};
const plain = v => String(Math.round(v));
panels.forEach((p, i) => {
  grids.push(Object.assign({show:true, borderColor:'#a8a8a8', borderWidth:1, containLabel:false}, p.grid));
  const xb = {type:'value', gridIndex:i, min:p.xMin, max:p.xMax, splitLine:{show:false},
    axisLine:{show:true, onZero:false, lineStyle:{color:'#a8a8a8'}},
    axisTick:{show:true, inside:true, length:3, customValues:p.xTicks, lineStyle:{color:'#888'}},
    axisLabel:Object.assign({customValues:p.xTicks, margin:4, showMinLabel:true, showMaxLabel:true, formatter:plain}, tickFont),
    name:p.xName, nameLocation:'middle', nameGap:11, nameTextStyle:{fontSize:5.5, color:'#444', fontFamily:'DejaVu Sans'}};
  const xt = {type:'value', gridIndex:i, position:'top', min:p.xMin, max:p.xMax, splitLine:{show:false},
    axisLine:{show:false}, axisTick:{show:true, inside:true, length:3, customValues:p.xTicks, lineStyle:{color:'#888'}},
    axisLabel:{show:false, customValues:p.xTicks}};
  xAxes.push(xb, xt);
  const yl = {type:'value', gridIndex:i, min:0, max:p.yMax, interval:p.yStep, splitLine:{show:false},
    axisLine:{show:true, lineStyle:{color:'#a8a8a8'}},
    axisTick:{show:true, inside:true, length:3, lineStyle:{color:'#888'}},
    axisLabel:Object.assign({margin:4, formatter:plain}, tickFont),
    name:'Å', nameLocation:'middle', nameGap:14, nameTextStyle:{fontSize:5.5, color:'#444', fontFamily:'DejaVu Sans'}};
  const yr = {type:'value', gridIndex:i, position:'right', min:0, max:p.yMax, interval:p.yStep, splitLine:{show:false},
    axisLine:{show:false}, axisTick:{show:true, inside:true, length:3, lineStyle:{color:'#888'}}, axisLabel:{show:false}};
  yAxes.push(yl, yr);
  const xi = 2*i, yi = 2*i;
  const haloName = 'HALO ' + p.id + (p.id==='C' ? '  chain' : ' chain');
  const apoName = 'APO ' + p.id + ' chain';
  series.push({type:'line', name:haloName, xAxisIndex:xi, yAxisIndex:yi, data:p.halo, showSymbol:false, symbol:'none',
    lineStyle:{color:GREEN, width:1.4}, itemStyle:{color:GREEN}, z:2, clip:true, animation:false,
    markLine:{silent:true, symbol:['none','arrow'], symbolSize:13, label:{show:false}, animation:false,
      lineStyle:{color:NAVY, width:3, type:'solid'}, itemStyle:{color:NAVY},
      emphasis:{disabled:true},
      data:p.arrows.map(a => [{coord:a[0]}, {coord:a[1]}])}});
  series.push({type:'line', name:apoName, xAxisIndex:xi, yAxisIndex:yi, data:p.apo, showSymbol:false, symbol:'none',
    lineStyle:{color:RED, width:1.4}, itemStyle:{color:RED}, z:3, clip:true, animation:false});
  series.push({type:'line', name:'domains'+p.id, xAxisIndex:xi, yAxisIndex:yi, data:[[p.xMin,domY[p.id]],[p.xMax,domY[p.id]]],
    showSymbol:false, symbol:'none', lineStyle:{color:'#9a9a9a', width:1}, silent:true, animation:false, z:1});
  series.push({type:'scatter', name:'domTicks'+p.id, xAxisIndex:xi, yAxisIndex:yi, symbol:'rect', symbolSize:[1,8],
    itemStyle:{color:'#777'}, data:p.domTicks.map(t => [t, domY[p.id]]), silent:true, animation:false, z:1});
  series.push({type:'scatter', name:'domLabels'+p.id, xAxisIndex:xi, yAxisIndex:yi, symbolSize:0,
    data:p.domLabels.map(d => ({name:d[0], value:[d[1], labY[p.id]]})).concat(p.tmd.map(t => ({name:'TMD', value:[t, tmdY[p.id]]}))),
    label:{show:true, position:'inside', formatter:'{b}', fontSize:5, color:'#444', fontFamily:'DejaVu Sans'},
    silent:true, animation:false, z:1});
  legends.push({orient:'vertical', right:p.legend.right, top:p.legend.top, align:'right', icon:'rect',
    itemWidth:13, itemHeight:2, itemGap:2, padding:0, selectedMode:false,
    textStyle:{fontSize:5, color:'#333', fontFamily:'DejaVu Sans', padding:[0,2,0,0]},
    data:[{name:haloName, itemStyle:{color:GREEN}}, {name:apoName, itemStyle:{color:RED}}]});
});

// titles and region labels (text annotations)
const serifB = 'bold 27px "Liberation Serif"', serifSub = 'bold 16px "Liberation Serif"', serifR = '18px "Liberation Serif"';
const titles = [
  {t:'A) GluN1', s:'1', x:56, y:64.8, sx:169, sy:70},
  {t:'B) GluN2A', s:'1', x:572, y:51.8, sx:702, sy:57},
  {t:'C) GluN1', s:'2', x:56, y:350.8, sx:169, sy:356},
  {t:'D) GluN2A', s:'2', x:592, y:338.8, sx:722, sy:344}
];
const regions = [
  ['Region 1',118,140.5],['Region 2',198,117.5],['Region 3',649,116.5],['Region 4',793,76.5],
  ['Region 5',876,76.5],['Region 6',916,96.5],['Region 7',301,424.5],['Region 8',404,424.5]
];
const graphics = [];
titles.forEach(t => {
  graphics.push({type:'text', silent:true, z:100, style:{text:t.t, x:t.x, y:t.y, font:serifB, fill:'#000', align:'left', verticalAlign:'middle'}});
  graphics.push({type:'text', silent:true, z:100, style:{text:t.s, x:t.sx, y:t.sy, font:serifSub, fill:'#000', align:'left', verticalAlign:'middle'}});
});
regions.forEach(r => graphics.push({type:'text', silent:true, z:100, style:{text:r[0], x:r[1], y:r[2], font:serifR, fill:'#000', align:'left', verticalAlign:'middle'}}));

const chart = echarts.init(document.getElementById('c'), null, {renderer:'canvas'});
chart.setOption({
  animation:false, backgroundColor:'#fff',
  grid:grids, xAxis:xAxes, yAxis:yAxes, series:series, legend:legends, graphic:graphics
});
</script></body></html>
